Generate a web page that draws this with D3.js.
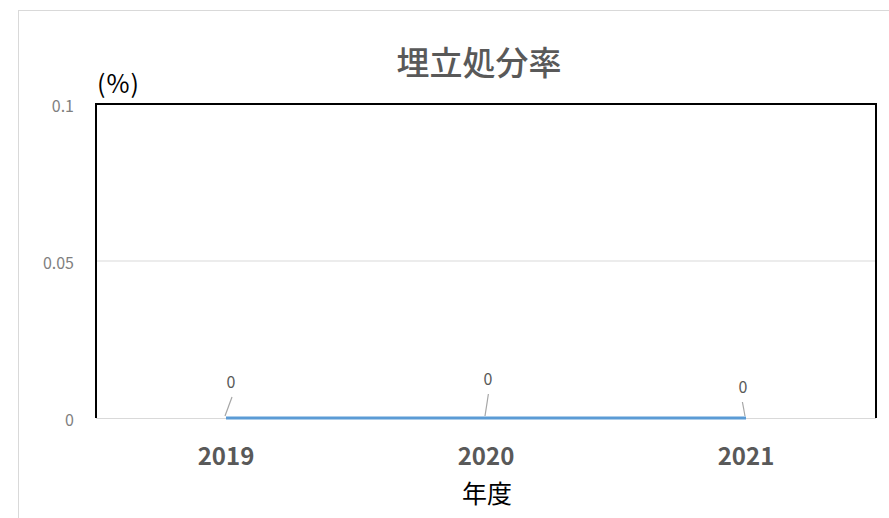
<!DOCTYPE html>
<html><head><meta charset="utf-8">
<script src="https://cdn.jsdelivr.net/npm/d3@7"></script>
<style>body{margin:0;background:#fff}svg{display:block}</style>
</head><body>
<svg id="c" width="889" height="518"></svg>
<script>
const categories = ["2019", "2020", "2021"];
const values = [0, 0, 0];
const yTicks = [0, 0.05, 0.1];
const yTickLabels = ["0", "0.05", "0.1"];
const title = "埋立処分率";
const xTitle = "年度";
const yUnit = "(%)";

const svg = d3.select("#c");
const m = {l: 96, t: 104, r: 876, b: 418};
const font = "'Noto Sans CJK JP','Noto Sans',sans-serif";

svg.append("rect").attr("x", 18.5).attr("y", 10.5).attr("width", 900).attr("height", 600)
  .attr("fill", "#fff").attr("stroke", "#d9d9d9");

const x = d3.scaleBand().domain(categories).range([m.l, m.r]);
const y = d3.scaleLinear().domain([0, 0.1]).range([m.b, m.t]);

// gridlines
svg.append("g").selectAll("line").data(yTicks.filter(t => t > 0 && t < 0.1)).join("line")
  .attr("x1", m.l).attr("x2", m.r).attr("y1", d => y(d)).attr("y2", d => y(d))
  .attr("stroke", "#d9d9d9").attr("stroke-width", 1);

// bottom axis line
svg.append("line").attr("x1", m.l).attr("x2", m.r).attr("y1", m.b + 0.5).attr("y2", m.b + 0.5)
  .attr("stroke", "#d9d9d9");

// plot border (left, top, right)
svg.append("path")
  .attr("d", `M${m.l},${m.b}V${m.t}H${m.r}V${m.b}`)
  .attr("fill", "none").attr("stroke", "#000").attr("stroke-width", 2);

// y labels
svg.append("g").selectAll("text").data(yTicks).join("text")
  .attr("x", 74).attr("y", d => y(d) + 8).attr("text-anchor", "end")
  .attr("font-family", font).attr("font-size", 16).attr("fill", "#7f7f7f")
  .text((d, i) => yTickLabels[i]);

// x labels
svg.append("g").selectAll("text").data(categories).join("text")
  .attr("x", d => x(d) + x.bandwidth() / 2).attr("y", 465).attr("text-anchor", "middle")
  .attr("font-family", font).attr("font-size", 24).attr("font-weight", "bold").attr("fill", "#595959")
  .text(d => d);

// line
const cx = d => x(d) + x.bandwidth() / 2;
svg.append("path").datum(values)
  .attr("d", d3.line().x((d, i) => cx(categories[i])).y(d => y(d)))
  .attr("fill", "none").attr("stroke", "#5B9BD5").attr("stroke-width", 3);

// data labels with leader lines
const lblOff = [{dx: 5, dy: -30}, {dx: 2, dy: -33}, {dx: -3, dy: -25}];
const g = svg.append("g");
values.forEach((v, i) => {
  const px = cx(categories[i]), py = y(v);
  const o = lblOff[i];
  g.append("line").attr("x1", px - 1).attr("y1", py - 2)
    .attr("x2", px + o.dx * 1.2).attr("y2", py + o.dy + 9)
    .attr("stroke", "#a6a6a6").attr("stroke-width", 1.2);
  g.append("text").attr("x", px + o.dx).attr("y", py + o.dy).attr("text-anchor", "middle")
    .attr("font-family", font).attr("font-size", 16).attr("fill", "#595959").text(d3.format("")(v));
});

// titles
svg.append("text").attr("x", 479).attr("y", 75).attr("text-anchor", "middle")
  .attr("font-family", font).attr("font-size", 33).attr("font-weight", 500).attr("fill", "#595959").text(title);
svg.append("text").attr("x", 487).attr("y", 503).attr("text-anchor", "middle")
  .attr("font-family", font).attr("font-size", 25).attr("fill", "#000").text(xTitle);
svg.append("text").attr("x", 97).attr("y", 93)
  .attr("font-family", font).attr("font-size", 25).attr("letter-spacing", 1).attr("fill", "#000").text(yUnit);
</script>
</body></html>
